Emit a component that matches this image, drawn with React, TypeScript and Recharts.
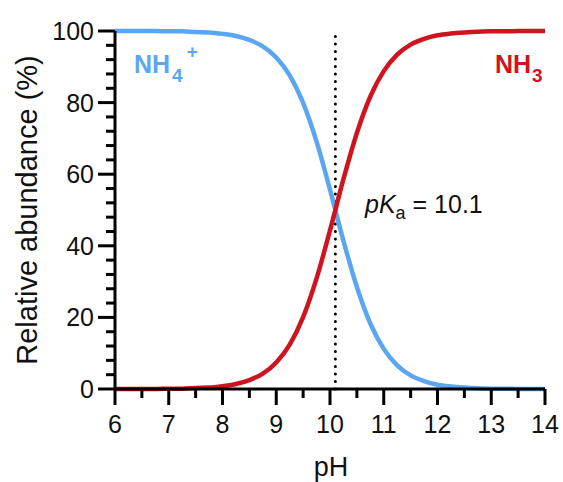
import { LineChart, Line, XAxis, YAxis, ReferenceLine } from 'recharts'

const phValues = [6, 6.25, 6.5, 6.75, 7, 7.25, 7.5, 7.75, 8, 8.25, 8.5, 8.75, 9, 9.25, 9.5, 9.75, 10, 10.25, 10.5, 10.75, 11, 11.25, 11.5, 11.75, 12, 12.25, 12.5, 12.75, 13, 13.25, 13.5, 13.75, 14]
// NH4+ share (%)
const ammonium = [100, 100, 100, 100, 99.9, 99.9, 99.7, 99.6, 99.2, 98.6, 97.5, 95.7, 92.6, 87.6, 79.9, 69.1, 55.7, 41.4, 28.5, 18.3, 11.2, 6.6, 3.8, 2.2, 1.2, 0.7, 0.4, 0.2, 0.1, 0.1, 0, 0, 0]
// NH3 share (%)
const ammonia = [0, 0, 0, 0, 0.1, 0.1, 0.3, 0.4, 0.8, 1.4, 2.5, 4.3, 7.4, 12.4, 20.1, 30.9, 44.3, 58.6, 71.5, 81.7, 88.8, 93.4, 96.2, 97.8, 98.8, 99.3, 99.6, 99.8, 99.9, 99.9, 100, 100, 100]

const xTicks = [6, 6.5, 7, 7.5, 8, 8.5, 9, 9.5, 10, 10.5, 11, 11.5, 12, 12.5, 13, 13.5, 14]
const yTicks = [0, 4, 8, 12, 16, 20, 24, 28, 32, 36, 40, 44, 48, 52, 56, 60, 64, 68, 72, 76, 80, 84, 88, 92, 96, 100]
const pKa = 10.1

const BLUE = '#5aa6f2'
const RED = '#cf1420'
const FONT = '"Liberation Sans", Arial, Helvetica, sans-serif'

const data = phValues.map((ph, i) => ({ ph, nh4: ammonium[i], nh3: ammonia[i] }))

function XTick({ x, y, payload }: any) {
  const v = payload.value
  const major = Number.isInteger(v)
  return (
    <g>
      <line x1={x} x2={x} y1={y} y2={y + (major ? 16 : 9)} stroke="#000" strokeWidth={3} />
      {major && (
        <text x={x} y={y + 44} textAnchor="middle" fontSize={25} fontFamily={FONT} fill="#111">
          {v}
        </text>
      )}
    </g>
  )
}

function YTick({ x, y, payload }: any) {
  const v = payload.value
  const major = v % 20 === 0
  return (
    <g>
      <line x1={x} x2={x - (major ? 17 : 9)} y1={y} y2={y} stroke="#000" strokeWidth={3} />
      {major && (
        <text x={x - 21} y={y + 9} textAnchor="end" fontSize={25} fontFamily={FONT} fill="#111">
          {v}
        </text>
      )}
    </g>
  )
}

export default function App() {
  return (
    <div style={{ position: 'absolute', left: 0, top: 0, width: 563, height: 482, background: '#fff' }}>
      <LineChart width={563} height={482} data={data} margin={{ top: 31, right: 18, bottom: 0, left: 0 }}>
        <XAxis
          dataKey="ph"
          type="number"
          domain={[6, 14]}
          ticks={xTicks}
          interval={0}
          tickSize={0}
          tickMargin={0}
          tickLine={false}
          tick={<XTick />}
          height={93}
          axisLine={{ stroke: '#000', strokeWidth: 3 }}
        />
        <YAxis
          type="number"
          domain={[0, 100]}
          ticks={yTicks}
          interval={0}
          tickSize={0}
          tickMargin={0}
          tickLine={false}
          tick={<YTick />}
          width={115}
          axisLine={{ stroke: '#000', strokeWidth: 3 }}
        />
        <ReferenceLine x={pKa} stroke="#000" strokeWidth={3} strokeDasharray="0 7.5" strokeLinecap="round" />
        <Line type="monotone" dataKey="nh4" stroke={BLUE} strokeWidth={4.5} dot={false} isAnimationActive={false} />
        <Line type="monotone" dataKey="nh3" stroke={RED} strokeWidth={4.5} dot={false} isAnimationActive={false} />
      </LineChart>
      <svg width={563} height={482} style={{ position: 'absolute', left: 0, top: 0, pointerEvents: 'none' }} fontFamily={FONT}>
        <text x={134} y={73} fontSize={25} fontWeight="bold" fill={BLUE}>
          NH
          <tspan dx={2} dy={9} fontSize={19}>4</tspan>
          <tspan dx={4} dy={-24} fontSize={19}>+</tspan>
        </text>
        <text x={495} y={73} fontSize={25} fontWeight="bold" fill={RED}>
          NH
          <tspan dx={1} dy={9} fontSize={19}>3</tspan>
        </text>
        <text x={365} y={213} fontSize={25} fill="#111">
          <tspan fontStyle="italic">pK</tspan>
          <tspan dy={6} fontSize={18}>a</tspan>
          <tspan dy={-6}> = 10.1</tspan>
        </text>
        <text x={331} y={476} fontSize={27} textAnchor="middle" fill="#111">pH</text>
        <text x={37} y={210} fontSize={29} textAnchor="middle" fill="#111" transform="rotate(-90, 37, 210)">
          Relative abundance (%)
        </text>
      </svg>
    </div>
  )
}
